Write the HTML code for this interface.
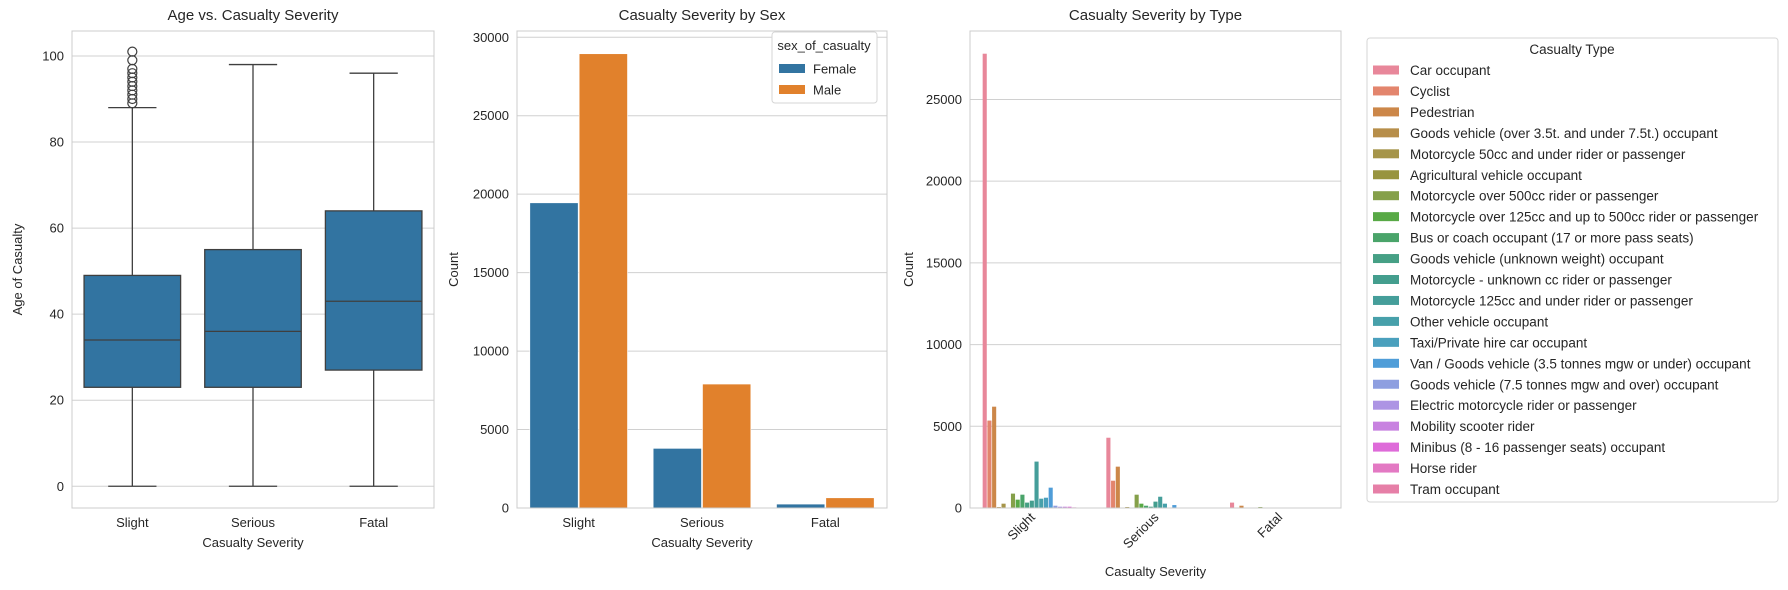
<!DOCTYPE html>
<html><head><meta charset="utf-8"><style>
body{margin:0;background:#fff;}
svg{display:block;font-family:"Liberation Sans",Arial,sans-serif;fill:#262626;}
</style></head><body>
<svg id="svg" width="1788" height="590" viewBox="0 0 1788 590"></svg>
<script>
// ---- Data ----
const severities = ["Slight","Serious","Fatal"];
// boxplot stats: [min, q1, median, q3, max]
const ageStats = [[0,23,34,49,88],[0,23,36,55,98],[0,27,43,64,96]];
const slightOutliers = [89,90,91,92,93,94,95,96,97,99,101];
const ageTicks = [0,20,40,60,80,100];
const sexes = ["Female","Male"];
const femaleCounts = [19450,3800,250];
const maleCounts = [28950,7900,650];
const sexTicks = [0,5000,10000,15000,20000,25000,30000];
const casualtyTypes = ["Car occupant","Cyclist","Pedestrian","Goods vehicle (over 3.5t. and under 7.5t.) occupant","Motorcycle 50cc and under rider or passenger","Agricultural vehicle occupant","Motorcycle over 500cc rider or passenger","Motorcycle over 125cc and up to 500cc rider or  passenger","Bus or coach occupant (17 or more pass seats)","Goods vehicle (unknown weight) occupant","Motorcycle - unknown cc rider or passenger","Motorcycle 125cc and under rider or passenger","Other vehicle occupant","Taxi/Private hire car occupant","Van / Goods vehicle (3.5 tonnes mgw or under) occupant","Goods vehicle (7.5 tonnes mgw and over) occupant","Electric motorcycle rider or passenger","Mobility scooter rider","Minibus (8 - 16 passenger seats) occupant","Horse rider","Tram occupant"];
const typeSlight = [27800,5350,6200,60,265,10,880,510,815,330,450,2840,570,630,1245,140,80,80,80,40,20];
const typeSerious = [4300,1670,2530,20,60,5,815,265,140,80,390,690,265,30,180,20,10,10,10,5,2];
const typeFatal = [330,15,140,5,20,2,60,10,5,5,5,10,5,2,5,2,1,1,1,1,1];
const typeTicks = [0,5000,10000,15000,20000,25000];
const typeColors = ["#e8879a","#e3856d","#cc8749","#b78e4a","#a6954a","#98943f","#85a04a","#58a946","#4aa46a","#46a085","#449e8e","#459e9a","#47a0aa","#4aa0bd","#4f9dd8","#8e9fe0","#ad94e4","#c882e0","#de6bd9","#e379c3","#e67fa7"];

const NS="http://www.w3.org/2000/svg", svg=document.getElementById('svg');
function mk(tag,attrs,parent){const e=document.createElementNS(NS,tag);for(const k in attrs)e.setAttribute(k,attrs[k]);(parent||svg).appendChild(e);return e;}
function txt(s,x,y,size,anchor,extra){const t=mk('text',Object.assign({x:x,y:y,'font-size':size,'text-anchor':anchor||'middle'},extra||{}));t.textContent=s;return t;}

function axesFrame(L,R,T,B,ticks,yf,title,ylabel,name){
  const g=mk('g',{});
  
  
  ticks.forEach(v=>{const y=yf(v);
    const l=mk('line',{x1:L,x2:R,y1:y,y2:y,stroke:'#d0d0d0','stroke-width':1},g);
    
    const t=txt(String(v),L-8,y+4.5,13,'end');
    });
  const tt=txt(title,(L+R)/2,20,15,'middle');
  
  return g;
}
function spines(L,R,T,B){const r=mk('rect',{x:L,y:T,width:R-L,height:B-T,fill:'none',stroke:'#cccccc','stroke-width':1});
  }

// ---- Chart 1 ----
(function(){
  const L=72,R=434,T=31,B=508,ymin=-5.05,ymax=105.8;
  const yf=v=>B-(v-ymin)/(ymax-ymin)*(B-T);
  const bw=(R-L)/severities.length, xf=i=>L+bw*(i+0.5);
  axesFrame(L,R,T,B,ageTicks,yf,"Age vs. Casualty Severity","","age-chart");
  const yl=txt("Age of Casualty",22,(T+B)/2,13,'middle',{transform:`rotate(-90 22 ${(T+B)/2})`});
  
  ageStats.forEach((s,i)=>{const cx=xf(i),w=bw*0.8;
    const g=mk('g',{});
    mk('line',{x1:cx,x2:cx,y1:yf(s[0]),y2:yf(s[1]),stroke:'#3f3f3f','stroke-width':1.3},g);
    mk('line',{x1:cx,x2:cx,y1:yf(s[3]),y2:yf(s[4]),stroke:'#3f3f3f','stroke-width':1.3},g);
    mk('line',{x1:cx-w/4,x2:cx+w/4,y1:yf(s[0]),y2:yf(s[0]),stroke:'#3f3f3f','stroke-width':1.3},g);
    mk('line',{x1:cx-w/4,x2:cx+w/4,y1:yf(s[4]),y2:yf(s[4]),stroke:'#3f3f3f','stroke-width':1.3},g);
    mk('rect',{x:cx-w/2,y:yf(s[3]),width:w,height:yf(s[1])-yf(s[3]),fill:'#3274a1',stroke:'#3f3f3f','stroke-width':1.3},g);
    mk('line',{x1:cx-w/2,x2:cx+w/2,y1:yf(s[2]),y2:yf(s[2]),stroke:'#3f3f3f','stroke-width':1.3},g);
    const xl=txt(severities[i],cx,527,13,'middle');
  });
  slightOutliers.forEach(v=>{const c=mk('circle',{cx:xf(0),cy:yf(v),r:4.5,fill:'none',stroke:'#3f3f3f','stroke-width':1.2});
    });
  spines(L,R,T,B);
  const xt=txt("Casualty Severity",(L+R)/2,547,13);
})();

// ---- Chart 2 ----
(function(){
  const L=517,R=887,T=31,B=508,ymax=30400;
  const yf=v=>B-v/ymax*(B-T);
  const bw=(R-L)/severities.length;
  axesFrame(L,R,T,B,sexTicks,yf,"Casualty Severity by Sex","","sex-chart");
  const yl=txt("Count",458,(T+B)/2,13,'middle',{transform:`rotate(-90 458 ${(T+B)/2})`});
  
  const series=[femaleCounts,maleCounts], cols=['#3274a1','#e1812c'];
  severities.forEach((s,i)=>{const gw=bw*0.8,w=gw/2,x0=L+bw*i+bw*0.1;
    series.forEach((arr,j)=>{const r=mk('rect',{x:x0+j*w+0.5,y:yf(arr[i]),width:w-1,height:B-yf(arr[i]),fill:cols[j],stroke:'#fff','stroke-width':0.6});
      });
    const xl=txt(s,L+bw*(i+0.5),527,13);
  });
  spines(L,R,T,B);
  const xt=txt("Casualty Severity",(L+R)/2,547,13);
  const lg=mk('g',{});
  mk('rect',{x:772,y:32,width:105,height:71,rx:3,fill:'#fff',stroke:'#d6d6d6'},lg);
  const lt=txt("sex_of_casualty",824,50,13,'middle');lg.appendChild(lt);
  sexes.forEach((s,j)=>{const y=69+j*21;
    mk('rect',{x:779,y:y-5,width:26,height:9,fill:cols[j]},lg);
    const t=txt(s,813,y+4.5,13,'start');lg.appendChild(t);
    });
})();

// ---- Chart 3 ----
(function(){
  const L=970,R=1341,T=31,B=508,ymax=29190;
  const yf=v=>B-v/ymax*(B-T);
  const bw=(R-L)/severities.length;
  axesFrame(L,R,T,B,typeTicks,yf,"Casualty Severity by Type","","type-chart");
  const yl=txt("Count",913,(T+B)/2,13,'middle',{transform:`rotate(-90 913 ${(T+B)/2})`});
  
  const groups=[typeSlight,typeSerious,typeFatal], n=casualtyTypes.length;
  groups.forEach((arr,i)=>{const gw=bw*0.8,w=gw/n,x0=L+bw*i+bw*0.1;
    arr.forEach((v,k)=>{const r=mk('rect',{x:x0+k*w+0.3,y:yf(v),width:w-0.6,height:B-yf(v),fill:typeColors[k]});
      });
    const cx=L+bw*(i+0.5);
    const xl=txt(severities[i],cx+4,518,13,'end',{transform:`rotate(-45 ${cx+4} 518)`});
    
  });
  spines(L,R,T,B);
  const xt=txt("Casualty Severity",(L+R)/2,576,13);
  const lg=mk('g',{});
  mk('rect',{x:1367,y:38,width:411,height:464,rx:3,fill:'#fff',stroke:'#d6d6d6'},lg);
  lg.appendChild(txt("Casualty Type",1572,54,13.5,'middle'));
  casualtyTypes.forEach((s,k)=>{const y=70+k*20.95;
    mk('rect',{x:1373,y:y-4.5,width:26,height:9,fill:typeColors[k]},lg);
    const t=txt(s,1410,y+5,13.5,'start');lg.appendChild(t);
    });
})();
</script>
</body></html>
